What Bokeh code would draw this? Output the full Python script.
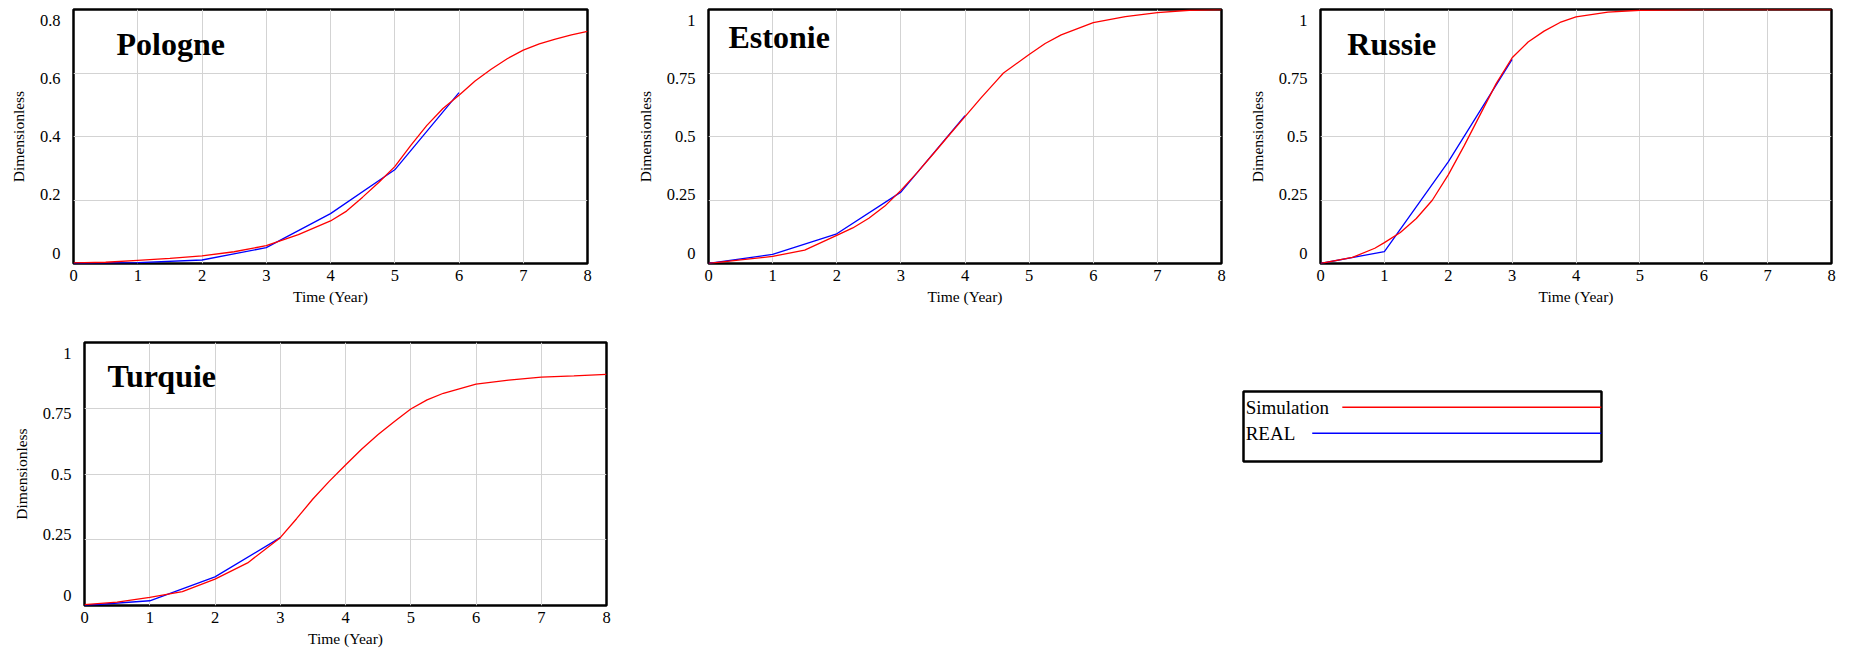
from bokeh.plotting import figure
from bokeh.models import (Range1d, LinearAxis, FixedTicker, NumeralTickFormatter,
                          Label, Grid, Spacer)
from bokeh.layouts import row, column
from bokeh.embed import file_html
from bokeh.resources import INLINE
from bokeh.core.properties import value

# ---------------------------------------------------------------- data
series_names = ["Simulation", "REAL"]
countries = ["Pologne", "Estonie", "Russie", "Turquie"]
year_ticks = [0, 1, 2, 3, 4, 5, 6, 7, 8]

pologne_sim_t = [0, 0.5, 1, 1.5, 2, 2.5, 3, 3.5, 4, 4.25, 4.5, 4.75, 5, 5.25, 5.5,
                 5.75, 6, 6.25, 6.5, 6.75, 7, 7.25, 7.5, 7.75, 8]
pologne_sim = [0.002, 0.004, 0.010, 0.016, 0.024, 0.037, 0.056, 0.091, 0.134, 0.165,
               0.209, 0.255, 0.305, 0.372, 0.435, 0.488, 0.530, 0.575, 0.612, 0.645,
               0.672, 0.692, 0.707, 0.720, 0.731]
pologne_real_t = [0, 1, 2, 3, 4, 5, 6]
pologne_real = [0.0, 0.003, 0.011, 0.050, 0.157, 0.295, 0.538]

estonie_sim_t = [0, 0.5, 1, 1.5, 2, 2.25, 2.5, 2.75, 3, 3.25, 3.5, 3.75, 4, 4.25, 4.5,
                 4.6, 5, 5.25, 5.5, 6, 6.5, 7, 7.5, 8]
estonie_sim = [0.0, 0.014, 0.028, 0.053, 0.111, 0.140, 0.178, 0.226, 0.288, 0.357,
               0.430, 0.505, 0.578, 0.652, 0.722, 0.750, 0.823, 0.866, 0.900, 0.948,
               0.972, 0.988, 0.997, 1.0]
estonie_real_t = [0, 1, 2, 3, 4]
estonie_real = [0.0, 0.036, 0.117, 0.281, 0.582]

russie_sim_t = [0, 0.5, 0.85, 1, 1.25, 1.5, 1.75, 2, 2.25, 2.5, 2.75, 3, 3.25, 3.5,
                3.75, 4, 4.5, 5, 6, 7, 8]
russie_sim = [0.0, 0.024, 0.060, 0.082, 0.122, 0.177, 0.249, 0.349, 0.464, 0.586,
              0.708, 0.810, 0.872, 0.915, 0.949, 0.971, 0.990, 0.997, 1.0, 1.0, 1.0]
russie_real_t = [0, 1, 2, 3]
russie_real = [0.0, 0.047, 0.400, 0.804]

turquie_sim_t = [0, 0.5, 1, 1.5, 2, 2.5, 3, 3.25, 3.5, 3.75, 4, 4.25, 4.5, 4.75, 5,
                 5.25, 5.5, 6, 6.5, 7, 7.5, 8]
turquie_sim = [0.003, 0.013, 0.031, 0.053, 0.100, 0.162, 0.258, 0.330, 0.405, 0.472,
               0.534, 0.595, 0.650, 0.700, 0.747, 0.782, 0.807, 0.842, 0.857, 0.868,
               0.873, 0.879]
turquie_real_t = [0, 1, 2, 3]
turquie_real = [0.0, 0.018, 0.109, 0.258]

pologne_yticks = [0, 0.2, 0.4, 0.6, 0.8]
share_yticks = [0, 0.25, 0.5, 0.75, 1]

# ---------------------------------------------------------------- styling
SERIF = "Liberation Serif"
SIM_COLOR = "#ff0000"
REAL_COLOR = "#0000ff"
GRID_COLOR = "#d3d3d3"


def panel(name, sim_t, sim_v, real_t, real_v, yticks,
          width, height, bl, br, bt, bb, title_dx, title_dy):
    ymax = yticks[-1]
    fw = width - bl - br
    fh = height - bt - bb
    p = figure(width=width, height=height,
               x_range=Range1d(0, 8), y_range=Range1d(0, ymax),
               output_backend="svg", toolbar_location=None,
               y_axis_location=None,
               min_border_left=bl, min_border_right=br,
               min_border_top=bt, min_border_bottom=bb)
    p.background_fill_color = "white"
    p.border_fill_color = "white"
    p.outline_line_color = "black"
    p.outline_line_width = 2.5

    # x axis
    xa = p.xaxis[0]
    xa.ticker = FixedTicker(ticks=year_ticks)
    xa.axis_label = "Time (Year)"
    xa.axis_line_color = None
    xa.major_tick_line_color = None
    xa.minor_tick_line_color = None
    xa.major_tick_out = 0
    xa.major_tick_in = 0
    xa.major_label_standoff = 6
    xa.major_label_text_font = SERIF
    xa.major_label_text_font_size = "16.5px"
    xa.major_label_text_color = "black"
    xa.axis_label_text_font = SERIF
    xa.axis_label_text_font_style = "normal"
    xa.axis_label_text_font_size = "15.5px"
    xa.axis_label_text_color = "black"
    xa.axis_label_standoff = 4
    p.xgrid.ticker = FixedTicker(ticks=year_ticks)
    p.xgrid.grid_line_color = GRID_COLOR

    # horizontal grid on the value range only
    p.ygrid.grid_line_color = None
    p.add_layout(Grid(dimension=1, ticker=FixedTicker(ticks=yticks),
                      grid_line_color=GRID_COLOR))

    # value labels sit slightly inside the frame ends
    slope = ymax / (fh - 21.5)
    p.extra_y_ranges = {"lab": Range1d(-10.5 * slope, ymax + 11 * slope)}
    ya = LinearAxis(y_range_name="lab", ticker=FixedTicker(ticks=yticks),
                    formatter=NumeralTickFormatter(format="0.[00]"),
                    axis_label="Dimensionless")
    ya.axis_line_color = None
    ya.major_tick_line_color = None
    ya.minor_tick_line_color = None
    ya.major_tick_out = 0
    ya.major_tick_in = 0
    ya.major_label_standoff = 13
    ya.major_label_text_font = SERIF
    ya.major_label_text_font_size = "16.5px"
    ya.major_label_text_color = "black"
    ya.axis_label_text_font = SERIF
    ya.axis_label_text_font_style = "normal"
    ya.axis_label_text_font_size = "15.5px"
    ya.axis_label_text_color = "black"
    ya.axis_label_standoff = 10
    p.add_layout(ya, "left")

    p.line(real_t, real_v, color=REAL_COLOR, line_width=1.3)
    p.line(sim_t, sim_v, color=SIM_COLOR, line_width=1.3)

    p.add_layout(Label(x=8 * title_dx / fw, y=ymax * (1 - title_dy / fh),
                       text=name, text_font=SERIF, text_font_style="bold",
                       text_font_size="32px", text_color="black",
                       text_baseline="alphabetic", text_align="left"))
    return p


pa = panel(countries[0], pologne_sim_t, pologne_sim, pologne_real_t, pologne_real,
           pologne_yticks, 630, 320, 73, 43, 9, 57, 43, 34)
pb = panel(countries[1], estonie_sim_t, estonie_sim, estonie_real_t, estonie_real,
           share_yticks, 615, 320, 78, 24, 9, 52, 20, 28)
pc = panel(countries[2], russie_sim_t, russie_sim, russie_real_t, russie_real,
           share_yticks, 612, 320, 72, 26, 8, 53, 27, 35)
pd = panel(countries[3], turquie_sim_t, turquie_sim, turquie_real_t, turquie_real,
           share_yticks, 630, 332, 84, 24, 22, 47, 23, 33)

# ---------------------------------------------------------------- legend box
leg = figure(width=362, height=74, x_range=Range1d(0, 1), y_range=Range1d(0, 1),
             output_backend="svg", toolbar_location=None,
             x_axis_location=None, y_axis_location=None, min_border=2)
leg.grid.visible = False
leg.background_fill_color = "white"
leg.border_fill_color = "white"
leg.outline_line_color = "black"
leg.outline_line_width = 2.5
leg_y = [0.776, 0.404]
leg.text(x=[0.006, 0.006], y=leg_y, text=series_names,
         text_font=value(SERIF), text_font_size="19px",
         text_baseline="middle", text_align="left", text_color="black")
leg.segment(x0=[0.276, 0.192], y0=leg_y, x1=[1, 1], y1=leg_y,
            color=[SIM_COLOR, REAL_COLOR], line_width=1.5)

legend_block = column(Spacer(width=1227, height=69),
                      row(Spacer(width=611, height=74), leg))

layout = column(row(pa, pb, pc), row(pd, legend_block))

with open("out.html", "w") as f:
    f.write(file_html(layout, INLINE))
